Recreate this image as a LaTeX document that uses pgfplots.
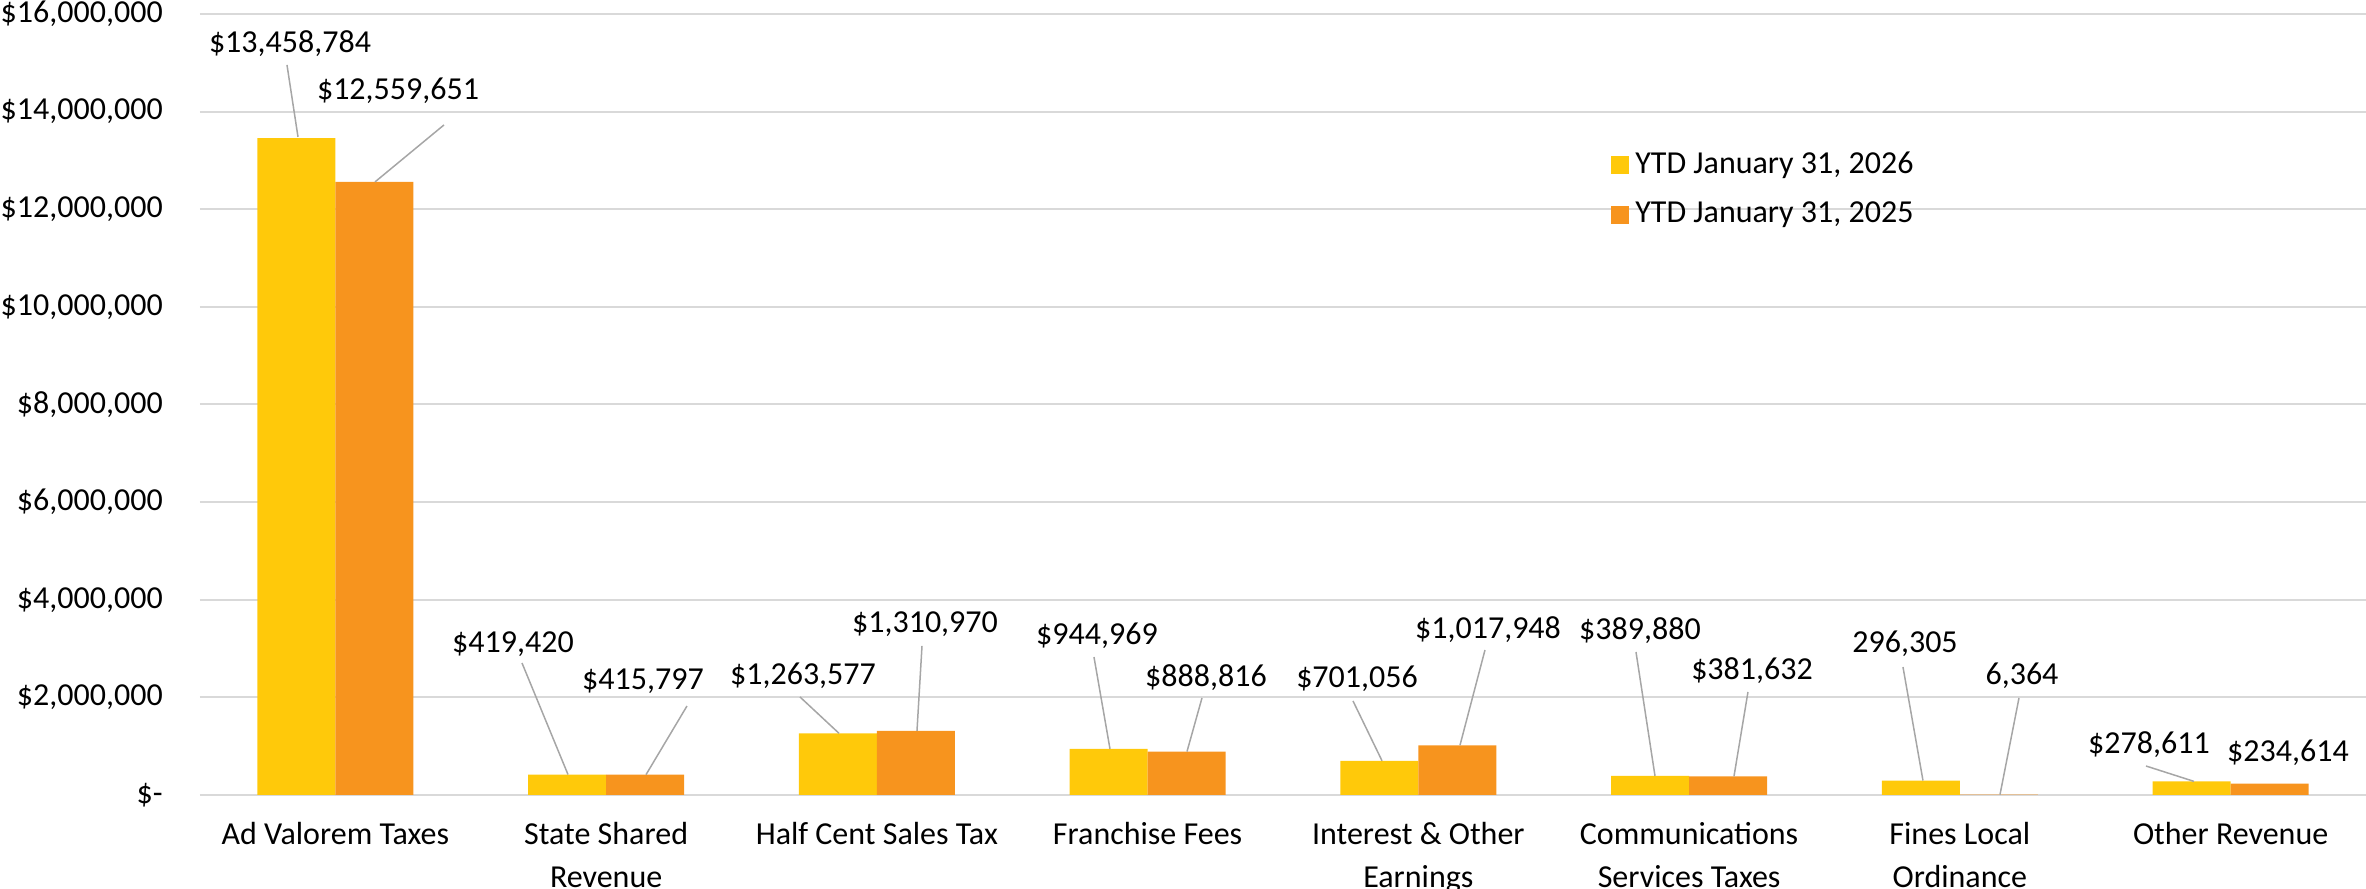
\documentclass[border=0pt]{standalone}
\usepackage{fontspec}
\setmainfont{Carlito}
\usepackage{pgfplots}
\pgfplotsset{compat=1.18}
\definecolor{cyel}{HTML}{FFC90A}
\definecolor{corg}{HTML}{F7941E}
\definecolor{cgrid}{HTML}{D9D9D9}
\definecolor{clead}{HTML}{A6A6A6}
\begin{document}
\begin{tikzpicture}[lbl/.style={anchor=base, inner sep=0pt, font=\fontsize{9.6}{11.5}\selectfont},
  lead/.style={draw=clead, line width=0.45pt}]
\begin{axis}[
  at={(0,0)}, anchor=south west,
  scale only axis, width=649.8pt, height=234.3pt,
  xmin=-0.5, xmax=7.5, ymin=0, ymax=16000000,
  ybar=0pt, bar width=23.4pt,
  axis line style={draw=none},
  major tick length=0pt,
  ymajorgrids, grid style={cgrid, line width=0.6pt},
  xtick={0,1,2,3,4,5,6,7},
  xticklabels={Ad Valorem Taxes, {State Shared\\Revenue}, Half Cent Sales Tax, Franchise Fees, {Interest \& Other\\Earnings}, {Communications\\Services Taxes}, {Fines Local\\Ordinance}, Other Revenue},
  xticklabel style={align=center, font=\fontsize{9.6}{12.9}\selectfont, yshift=-4.6pt},
  ytick={0,2000000,4000000,6000000,8000000,10000000,12000000,14000000,16000000},
  yticklabels={{\$-\hspace{0.4em}},{\$2,000,000},{\$4,000,000},{\$6,000,000},{\$8,000,000},{\$10,000,000},{\$12,000,000},{\$14,000,000},{\$16,000,000}},
  yticklabel style={font=\fontsize{9.6}{11.5}\selectfont, anchor=east, xshift=-11pt, inner sep=0pt},
  legend style={at={(rel axis cs:0.651,0.827)}, anchor=north west, draw=none, fill=none, inner sep=0pt,
    font=\fontsize{9.6}{11.5}\selectfont, row sep=6.2pt, nodes={inner sep=0.5pt}},
  legend cell align=left,
  legend image code/.code={\fill[#1] (0pt,-2.7pt) rectangle (5.4pt,2.7pt);},
  clip=false,
]
\addplot[fill=cyel, draw=none] coordinates {(0,13458784) (1,419420) (2,1263577) (3,944969) (4,701056) (5,389880) (6,296305) (7,278611)};
\addlegendentry{\hspace{1.5pt}YTD January 31, 2026}
\addplot[fill=corg, draw=none] coordinates {(0,12559651) (1,415797) (2,1310970) (3,888816) (4,1017948) (5,381632) (6,6364) (7,234614)};
\addlegendentry{\hspace{1.5pt}YTD January 31, 2025}

% leader lines
\draw[lead] (axis cs:-0.1787,14956000) -- (axis cs:-0.1380,13481000);
\draw[lead] (axis cs:0.4012,13727000) -- (axis cs:0.1464,12559651);
\draw[lead] (axis cs:0.6893,2704000) -- (axis cs:0.8592,419420);
\draw[lead] (axis cs:1.2987,1823000) -- (axis cs:1.1473,415797);
\draw[lead] (axis cs:1.7161,2008000) -- (axis cs:1.8601,1263577);
\draw[lead] (axis cs:2.1667,3053000) -- (axis cs:2.1482,1310970);
\draw[lead] (axis cs:2.8019,2827000) -- (axis cs:2.8610,944969);
\draw[lead] (axis cs:3.2008,1987000) -- (axis cs:3.1454,888816);
\draw[lead] (axis cs:3.7586,1926000) -- (axis cs:3.8657,701056);
\draw[lead] (axis cs:4.2461,2971000) -- (axis cs:4.1537,1017948);
\draw[lead] (axis cs:4.8038,2930000) -- (axis cs:4.8740,389880);
\draw[lead] (axis cs:5.2174,2110000) -- (axis cs:5.1657,381632);
\draw[lead] (axis cs:5.7899,2622000) -- (axis cs:5.8638,296305);
\draw[lead] (axis cs:6.2184,1987000) -- (axis cs:6.1482,6364);
\draw[lead] (axis cs:6.6874,594000) -- (axis cs:6.8647,278611);

% data labels
\node[lbl] at (axis cs:-0.1676,15202000) {\$13,458,784};
\node[lbl] at (axis cs:0.2313,14239000) {\$12,559,651};
\node[lbl] at (axis cs:0.6560,2909000) {\$419,420};
\node[lbl] at (axis cs:1.1362,2151000) {\$415,797};
\node[lbl] at (axis cs:1.7271,2254000) {\$1,263,577};
\node[lbl] at (axis cs:2.1777,3319000) {\$1,310,970};
\node[lbl] at (axis cs:2.8130,3073000) {\$944,969};
\node[lbl] at (axis cs:3.2156,2213000) {\$888,816};
\node[lbl] at (axis cs:3.7734,2192000) {\$701,056};
\node[lbl] at (axis cs:4.2572,3196000) {\$1,017,948};
\node[lbl] at (axis cs:4.8186,3176000) {\$389,880};
\node[lbl] at (axis cs:5.2323,2356000) {\$381,632};
\node[lbl] at (axis cs:5.7974,2909000) {296,305};
\node[lbl] at (axis cs:6.2295,2254000) {6,364};
\node[lbl] at (axis cs:6.6985,840000) {\$278,611};
\node[lbl] at (axis cs:7.2119,676000) {\$234,614};
\end{axis}
\pgfresetboundingbox
\useasboundingbox (-60pt,-28.2pt) rectangle (649.8pt,238.5pt);
\end{tikzpicture}
\end{document}
